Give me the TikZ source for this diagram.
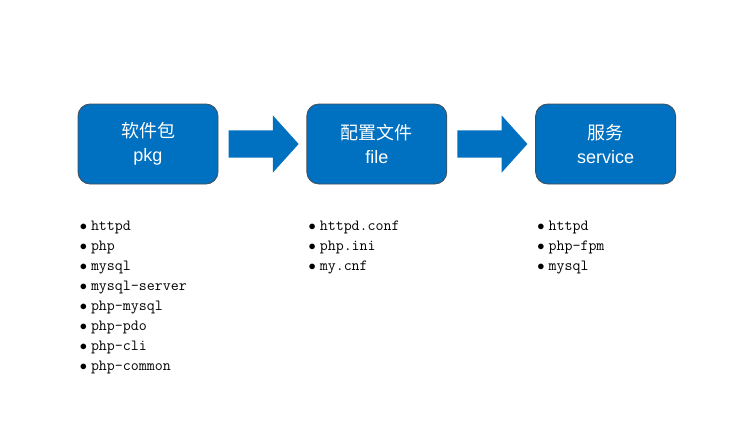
\documentclass[tikz,border=0pt]{standalone}
\usepackage{fontspec}
\setsansfont{Liberation Sans}
\newfontfamily\cjk{Noto Sans CJK SC}
\usetikzlibrary{positioning,shapes.arrows}

\definecolor{stageblue}{RGB}{0,112,192}
\definecolor{stageline}{RGB}{72,76,84}
\newcommand{\itm}{$\bullet$\hspace{4pt}}

\begin{document}
\begin{tikzpicture}[x=1pt,y=-1pt]
    % install -> configure -> run
    \tikzset{stage/.style = {shape=rectangle,rounded corners=12pt,draw=stageline,line width=0.8pt,
        fill=stageblue,text=white,minimum width=140pt,minimum height=80pt,align=center,
        font=\sffamily\fontsize{18}{24}\selectfont}}
    \tikzset{flow/.style = {shape=single arrow,fill=stageblue,inner sep=0pt,inner ysep=13.5pt,
        single arrow head extend=15pt,single arrow tip angle=96,minimum height=70pt}}
    \tikzset{items/.style = {inner sep=0pt,align=left,font=\ttfamily\fontsize{15.5}{20}\selectfont}}

    \useasboundingbox (0,0) rectangle (742,436);

    % stages
    \node[stage] (pkg)                    at (148,144) {{\cjk 软件包}\\pkg};
    \node[stage] (file)    [right=88pt of pkg]  {{\cjk 配置文件}\\file};
    \node[stage] (service) [right=88pt of file] {{\cjk 服务}\\service};

    % arrows
    \node[flow] (go1) [right=10pt of pkg]  {};
    \node[flow] (go2) [right=10pt of file] {};

    % lists
    \node[items] (pkgs)  [below right=36pt and 2pt of pkg.south west]
        {\itm httpd\\\itm php\\\itm mysql\\\itm mysql-server\\\itm php-mysql\\\itm php-pdo\\\itm php-cli\\\itm php-common};
    \node[items] (files) [below right=36pt and 2pt of file.south west]
        {\itm httpd.conf\\\itm php.ini\\\itm my.cnf};
    \node[items] (svcs)  [below right=36pt and 2pt of service.south west]
        {\itm httpd\\\itm php-fpm\\\itm mysql};
\end{tikzpicture}
\end{document}
